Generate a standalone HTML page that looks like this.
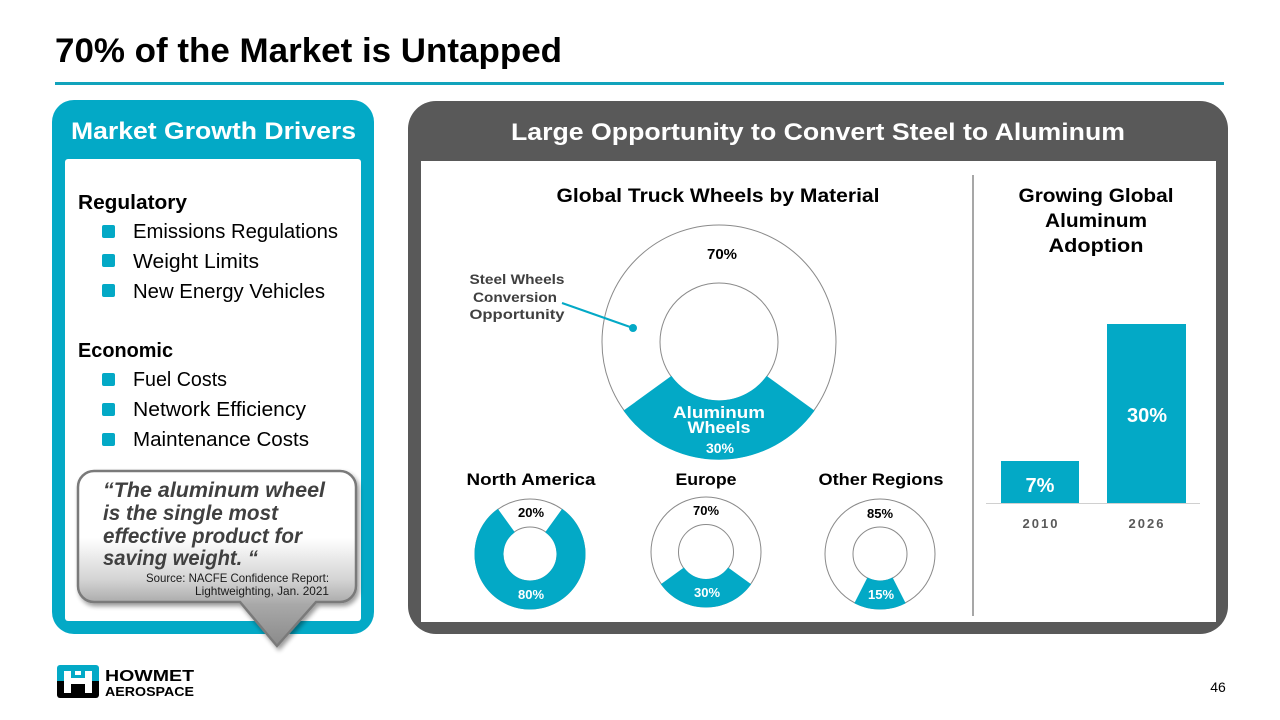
<!DOCTYPE html>
<html>
<head>
<meta charset="utf-8">
<style>
  html,body{margin:0;padding:0;background:#fff;}
  body{width:1280px;height:720px;overflow:hidden;}
  svg{display:block;font-family:"Liberation Sans",Arial,sans-serif;}
</style>
</head>
<body>
<svg width="1280" height="720" viewBox="0 0 1280 720" xmlns="http://www.w3.org/2000/svg">
  <defs>
    <linearGradient id="cg" x1="0" y1="471" x2="0" y2="646" gradientUnits="userSpaceOnUse">
      <stop offset="0" stop-color="#ffffff"/>
      <stop offset="0.38" stop-color="#ffffff"/>
      <stop offset="0.62" stop-color="#d4d4d4"/>
      <stop offset="0.76" stop-color="#a9a9a9"/>
      <stop offset="1" stop-color="#8a8a8a"/>
    </linearGradient>
    <filter id="sh" x="-10%" y="-10%" width="130%" height="130%">
      <feGaussianBlur in="SourceAlpha" stdDeviation="2.5"/>
      <feOffset dx="2" dy="3" result="o"/>
      <feComponentTransfer><feFuncA type="linear" slope="0.4"/></feComponentTransfer>
      <feMerge><feMergeNode/><feMergeNode in="SourceGraphic"/></feMerge>
    </filter>
  </defs>

  <!-- Title -->
  <text x="55" y="62" font-size="34" font-weight="bold" fill="#000" textLength="507" lengthAdjust="spacingAndGlyphs">70% of the Market is Untapped</text>
  <rect x="55" y="82" width="1169" height="3" fill="#12A3BC"/>

  <!-- Left panel -->
  <rect x="52" y="100" width="322" height="534" rx="22" fill="#03A9C6"/>
  <rect x="65" y="159" width="296" height="462" rx="3" fill="#fff"/>
  <text x="213.5" y="139" font-size="24" font-weight="bold" fill="#fff" text-anchor="middle" textLength="285" lengthAdjust="spacingAndGlyphs">Market Growth Drivers</text>

  <g font-size="20" fill="#000">
    <text x="78" y="209" font-weight="bold" textLength="109" lengthAdjust="spacingAndGlyphs">Regulatory</text>
    <rect x="102" y="225" width="13" height="13" rx="2" fill="#03A9C6"/>
    <text x="133" y="238" textLength="205" lengthAdjust="spacingAndGlyphs">Emissions Regulations</text>
    <rect x="102" y="254" width="13" height="13" rx="2" fill="#03A9C6"/>
    <text x="133" y="268" textLength="126" lengthAdjust="spacingAndGlyphs">Weight Limits</text>
    <rect x="102" y="284" width="13" height="13" rx="2" fill="#03A9C6"/>
    <text x="133" y="298" textLength="192" lengthAdjust="spacingAndGlyphs">New Energy Vehicles</text>

    <text x="78" y="357" font-weight="bold" textLength="95" lengthAdjust="spacingAndGlyphs">Economic</text>
    <rect x="102" y="373" width="13" height="13" rx="2" fill="#03A9C6"/>
    <text x="133" y="386" textLength="94" lengthAdjust="spacingAndGlyphs">Fuel Costs</text>
    <rect x="102" y="403" width="13" height="13" rx="2" fill="#03A9C6"/>
    <text x="133" y="416" textLength="173" lengthAdjust="spacingAndGlyphs">Network Efficiency</text>
    <rect x="102" y="433" width="13" height="13" rx="2" fill="#03A9C6"/>
    <text x="133" y="446" textLength="176" lengthAdjust="spacingAndGlyphs">Maintenance Costs</text>
  </g>

  <!-- Callout -->
  <path d="M 94 471 H 340 A 16 16 0 0 1 356 487 V 586 A 16 16 0 0 1 340 602 H 316 L 277 646 L 240 602 H 94 A 16 16 0 0 1 78 586 V 487 A 16 16 0 0 1 94 471 Z"
        fill="url(#cg)" stroke="#7a7a7a" stroke-width="2.5" filter="url(#sh)"/>
  <g font-size="21" font-weight="bold" font-style="italic" fill="#404040">
    <text x="103" y="497" textLength="222" lengthAdjust="spacingAndGlyphs">“The aluminum wheel</text>
    <text x="103" y="520" textLength="175" lengthAdjust="spacingAndGlyphs">is the single most</text>
    <text x="103" y="543" textLength="199" lengthAdjust="spacingAndGlyphs">effective product for</text>
    <text x="103" y="565" textLength="155" lengthAdjust="spacingAndGlyphs">saving weight. “</text>
  </g>
  <g font-size="12" fill="#1a1a1a" text-anchor="end">
    <text x="329" y="582" textLength="183" lengthAdjust="spacingAndGlyphs">Source: NACFE Confidence Report:</text>
    <text x="329" y="595" textLength="134" lengthAdjust="spacingAndGlyphs">Lightweighting, Jan. 2021</text>
  </g>

  <!-- Right panel -->
  <rect x="408" y="101" width="820" height="533" rx="28" fill="#595959"/>
  <rect x="421" y="161" width="795" height="461" fill="#fff"/>
  <text x="818" y="140" font-size="24" font-weight="bold" fill="#fff" text-anchor="middle" textLength="614" lengthAdjust="spacingAndGlyphs">Large Opportunity to Convert Steel to Aluminum</text>

  <!-- Big donut -->
  <text x="718" y="202" font-size="19" font-weight="bold" fill="#000" text-anchor="middle" textLength="323" lengthAdjust="spacingAndGlyphs">Global Truck Wheels by Material</text>
  <circle cx="719" cy="342" r="117" fill="#fff" stroke="#8a8a8a" stroke-width="1"/>
  <circle cx="719" cy="342" r="59" fill="#fff" stroke="#8a8a8a" stroke-width="1"/>
  <path d="M 813.7 410.8 A 117 117 0 0 1 624.3 410.8 L 671.3 376.7 A 59 59 0 0 0 766.7 376.7 Z" fill="#03A9C6" stroke="#03A9C6" stroke-width="1.2"/>
  <text x="722" y="259" font-size="15" font-weight="bold" fill="#000" text-anchor="middle">70%</text>
  <g font-size="17" font-weight="bold" fill="#fff" text-anchor="middle">
    <text x="719" y="418" textLength="92" lengthAdjust="spacingAndGlyphs">Aluminum</text>
    <text x="719" y="433" textLength="63" lengthAdjust="spacingAndGlyphs">Wheels</text>
  </g>
  <text x="720" y="453" font-size="14" font-weight="bold" fill="#fff" text-anchor="middle">30%</text>

  <g font-size="14" font-weight="bold" fill="#404040" text-anchor="middle">
    <text x="517" y="284" textLength="95" lengthAdjust="spacingAndGlyphs">Steel Wheels</text>
    <text x="515" y="302" textLength="84" lengthAdjust="spacingAndGlyphs">Conversion</text>
    <text x="517" y="319" textLength="95" lengthAdjust="spacingAndGlyphs">Opportunity</text>
  </g>
  <line x1="562" y1="303" x2="633" y2="328" stroke="#03A9C6" stroke-width="2"/>
  <circle cx="633" cy="328" r="4" fill="#03A9C6"/>

  <!-- Small donuts -->
  <g font-size="17" font-weight="bold" fill="#000" text-anchor="middle">
    <text x="531" y="485" textLength="129" lengthAdjust="spacingAndGlyphs">North America</text>
    <text x="706" y="485" textLength="61" lengthAdjust="spacingAndGlyphs">Europe</text>
    <text x="881" y="485" textLength="125" lengthAdjust="spacingAndGlyphs">Other Regions</text>
  </g>

  <!-- North America -->
  <circle cx="530" cy="554" r="55" fill="#fff" stroke="#8a8a8a" stroke-width="1"/>
  <circle cx="530" cy="554" r="27" fill="#fff" stroke="#8a8a8a" stroke-width="1"/>
  <path d="M 562.3 509.5 A 55 55 0 1 1 497.7 509.5 L 514.1 532.2 A 27 27 0 1 0 545.9 532.2 Z" fill="#03A9C6" stroke="#03A9C6" stroke-width="1"/>
  <text x="531" y="517" font-size="13" font-weight="bold" fill="#000" text-anchor="middle">20%</text>
  <text x="531" y="599" font-size="13" font-weight="bold" fill="#fff" text-anchor="middle">80%</text>

  <!-- Europe -->
  <circle cx="706" cy="552" r="55" fill="#fff" stroke="#8a8a8a" stroke-width="1"/>
  <circle cx="706" cy="552" r="27.5" fill="#fff" stroke="#8a8a8a" stroke-width="1"/>
  <path d="M 750.5 584.3 A 55 55 0 0 1 661.5 584.3 L 683.8 568.2 A 27.5 27.5 0 0 0 728.2 568.2 Z" fill="#03A9C6" stroke="#03A9C6" stroke-width="1"/>
  <text x="706" y="515" font-size="13" font-weight="bold" fill="#000" text-anchor="middle">70%</text>
  <text x="707" y="597" font-size="13" font-weight="bold" fill="#fff" text-anchor="middle">30%</text>

  <!-- Other Regions -->
  <circle cx="880" cy="554" r="55" fill="#fff" stroke="#8a8a8a" stroke-width="1"/>
  <circle cx="880" cy="554" r="27" fill="#fff" stroke="#8a8a8a" stroke-width="1"/>
  <path d="M 905 603 A 55 55 0 0 1 855 603 L 867.7 578.1 A 27 27 0 0 0 892.3 578.1 Z" fill="#03A9C6" stroke="#03A9C6" stroke-width="1"/>
  <text x="880" y="518" font-size="13" font-weight="bold" fill="#000" text-anchor="middle">85%</text>
  <text x="881" y="599" font-size="13" font-weight="bold" fill="#fff" text-anchor="middle">15%</text>

  <!-- Divider -->
  <line x1="973" y1="175" x2="973" y2="616" stroke="#8a8a8a" stroke-width="1.5"/>

  <!-- Bar chart -->
  <g font-size="19" font-weight="bold" fill="#000" text-anchor="middle">
    <text x="1096" y="202" textLength="155" lengthAdjust="spacingAndGlyphs">Growing Global</text>
    <text x="1096" y="227" textLength="102" lengthAdjust="spacingAndGlyphs">Aluminum</text>
    <text x="1096" y="252" textLength="95" lengthAdjust="spacingAndGlyphs">Adoption</text>
  </g>
  <rect x="1001" y="461" width="78" height="42" fill="#03A9C6"/>
  <rect x="1107" y="324" width="79" height="179" fill="#03A9C6"/>
  <line x1="986" y1="503.5" x2="1200" y2="503.5" stroke="#d0d0d0" stroke-width="1"/>
  <text x="1040" y="492" font-size="20" font-weight="bold" fill="#fff" text-anchor="middle">7%</text>
  <text x="1147" y="422" font-size="20" font-weight="bold" fill="#fff" text-anchor="middle">30%</text>
  <g font-size="13" font-weight="bold" fill="#595959" text-anchor="middle" letter-spacing="2">
    <text x="1041" y="528">2010</text>
    <text x="1147" y="528">2026</text>
  </g>

  <!-- Logo -->
  <g>
    <path d="M 60 665 H 96 A 3 3 0 0 1 99 668 V 681 H 57 V 668 A 3 3 0 0 1 60 665 Z" fill="#03A9C6"/>
    <path d="M 57 681 H 99 V 695 A 3 3 0 0 1 96 698 H 60 A 3 3 0 0 1 57 695 Z" fill="#000"/>
    <rect x="64" y="671" width="7" height="22" fill="#fff"/>
    <rect x="85" y="671" width="7" height="22" fill="#fff"/>
    <rect x="64" y="678" width="28" height="6" fill="#fff"/>
    <rect x="75" y="671" width="6" height="4" fill="#fff"/>
  </g>
  <text x="105" y="681" font-size="16" font-weight="bold" fill="#000" textLength="89" lengthAdjust="spacingAndGlyphs">HOWMET</text>
  <text x="105" y="696" font-size="13" font-weight="bold" fill="#000" textLength="89" lengthAdjust="spacingAndGlyphs">AEROSPACE</text>

  <!-- Page number -->
  <text x="1218" y="692" font-size="14" fill="#000" text-anchor="middle">46</text>
</svg>
</body>
</html>
